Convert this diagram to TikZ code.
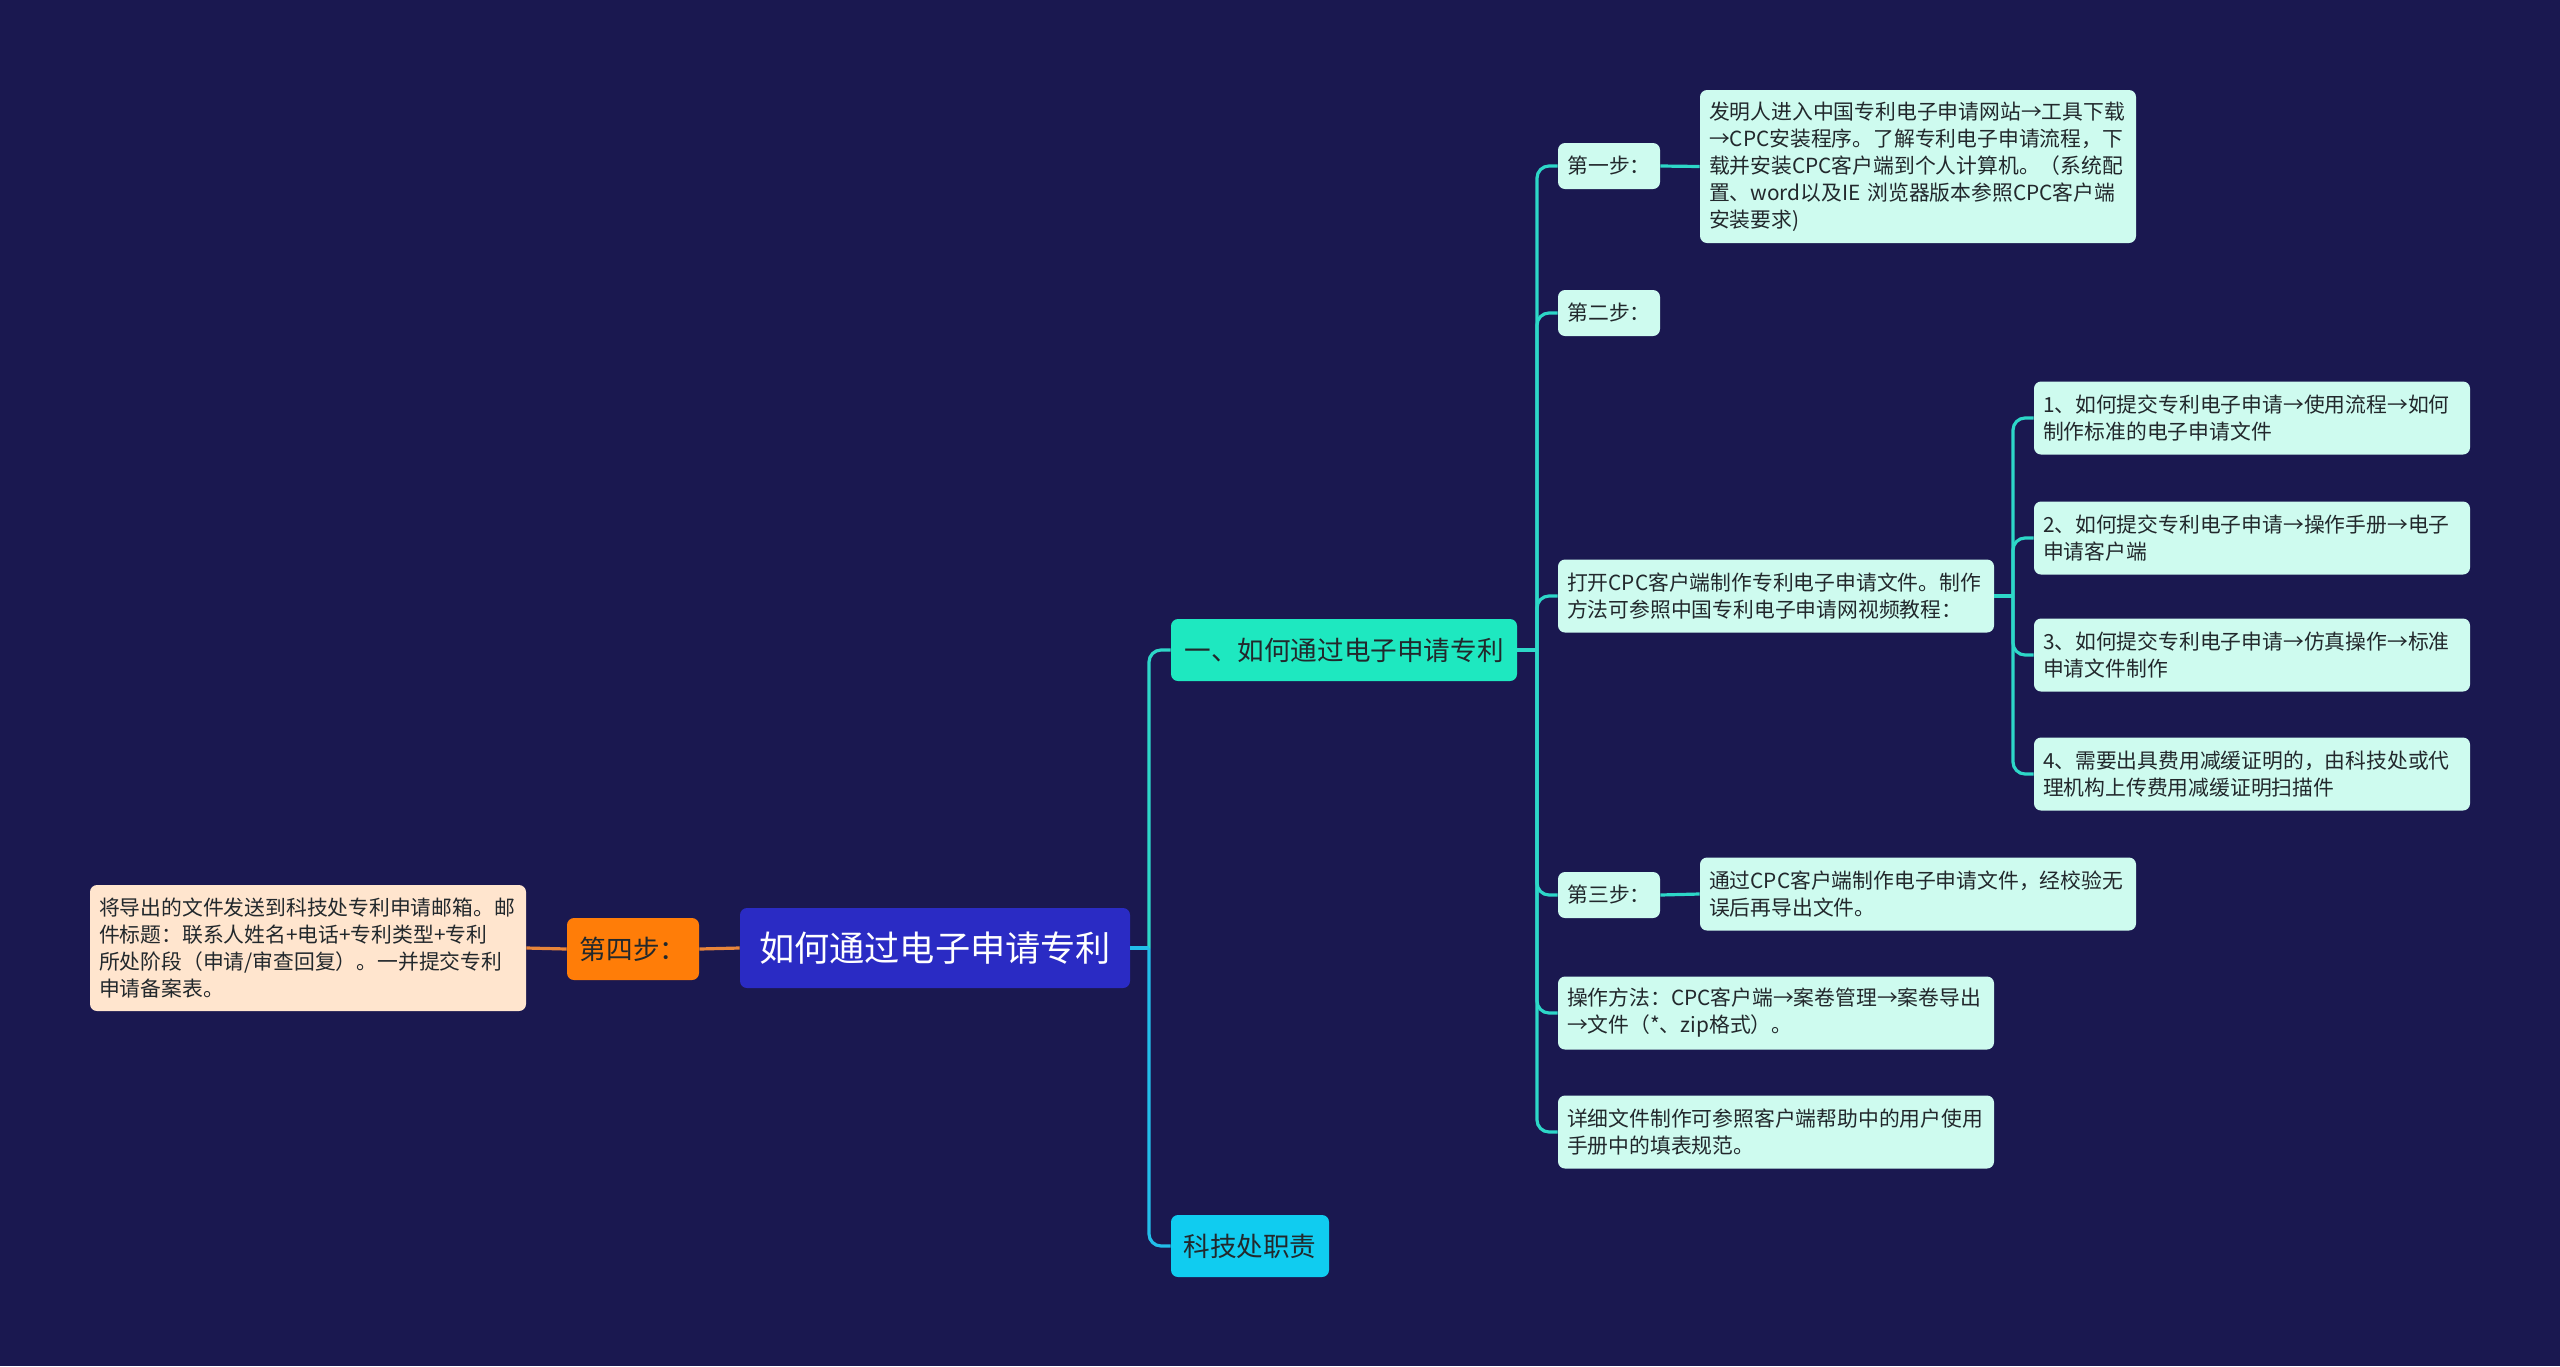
\documentclass[tikz,border=0pt]{standalone}
\usepackage{fontspec}
\newfontfamily\cjk{Noto Sans CJK SC}
\definecolor{bgc}{RGB}{26,24,80}
\definecolor{rootfill}{RGB}{42,43,196}
\definecolor{tealfill}{RGB}{30,232,192}
\definecolor{cyanfill}{RGB}{16,204,240}
\definecolor{mintfill}{RGB}{206,251,239}
\definecolor{orangefill}{RGB}{255,125,8}
\definecolor{peachfill}{RGB}{255,229,206}
\definecolor{darktext}{RGB}{34,40,44}
\definecolor{tealline}{RGB}{45,215,200}
\definecolor{cyanline}{RGB}{34,190,234}
\definecolor{orangeline}{RGB}{232,133,58}
\begin{document}
\begin{tikzpicture}[x=0.5pt,y=-0.5pt,
  base/.style={rounded corners=3.5pt, inner xsep=4.5pt, inner ysep=2pt, text=darktext},
  ltwo/.style={base, fill=mintfill, font=\cjk\fontsize{10.4}{13.5}\selectfont, align=left},
  widebox/.style={ltwo, text width=209pt, minimum height=36.5pt},
  shortbox/.style={ltwo, align=center, minimum width=51pt, minimum height=23pt},
  lone/.style={base, font=\cjk\fontsize{13.3}{16}\selectfont, minimum height=31pt},
  rootbox/.style={base, fill=rootfill, text=white, font=\cjk\fontsize{17.6}{20}\selectfont, minimum width=195pt, minimum height=40pt},
  conn/.style={line width=1.6pt, rounded corners=6pt},
]
\fill[bgc] (0,0) rectangle (2560,1366);
\useasboundingbox (0,0) rectangle (2560,1366);

% nodes
\node[rootbox] (root) at (935,948) {如何通过电子申请专利};
\node[lone, fill=orangefill, minimum width=66pt] (s4) at (633,949) {第四步：};
\node[ltwo, fill=peachfill, text width=209pt, minimum height=63pt] (s4t) at (308,948)
  {将导出的文件发送到科技处专利申请邮箱。邮\\件标题：联系人姓名+电话+专利类型+专利\\所处阶段（申请/审查回复）。一并提交专利\\申请备案表。};
\node[lone, fill=tealfill, minimum width=173pt] (b1) at (1344,650) {一、如何通过电子申请专利};
\node[lone, fill=cyanfill, minimum width=79pt] (b2) at (1250,1246) {科技处职责};

\node[shortbox] (st1) at (1609,166) {第一步：};
\node[widebox, minimum height=76.5pt] (st1t) at (1918,166.5)
  {发明人进入中国专利电子申请网站→工具下载\\→CPC安装程序。了解专利电子申请流程，下\\载并安装CPC客户端到个人计算机。（系统配\\置、word以及IE 浏览器版本参照CPC客户端\\安装要求)};
\node[shortbox] (st2) at (1609,313) {第二步：};
\node[widebox] (open) at (1776,596) {打开CPC客户端制作专利电子申请文件。制作\\方法可参照中国专利电子申请网视频教程：};
\node[widebox] (sub1) at (2252,418) {1、如何提交专利电子申请→使用流程→如何\\制作标准的电子申请文件};
\node[widebox] (sub2) at (2252,538) {2、如何提交专利电子申请→操作手册→电子\\申请客户端};
\node[widebox] (sub3) at (2252,655) {3、如何提交专利电子申请→仿真操作→标准\\申请文件制作};
\node[widebox] (sub4) at (2252,774) {4、需要出具费用减缓证明的，由科技处或代\\理机构上传费用减缓证明扫描件};
\node[shortbox] (st3) at (1609,895) {第三步：};
\node[widebox] (st3t) at (1918,894) {通过CPC客户端制作电子申请文件，经校验无\\误后再导出文件。};
\node[widebox] (op) at (1776,1013) {操作方法：CPC客户端→案卷管理→案卷导出\\→文件（*、zip格式）。};
\node[widebox] (det) at (1776,1132) {详细文件制作可参照客户端帮助中的用户使用\\手册中的填表规范。};

% junctions
\coordinate (rj) at (1149,948);
\coordinate (j1) at (1537,650);
\coordinate (j2) at (2013,596);

% connectors
\draw[conn, cyanline] (rj) |- (b2.west);
\draw[conn, tealline] (rj) |- (b1.west);
\draw[conn, cyanline] (root.east) -- (rj);
\draw[conn, orangeline] (root.west) -- (s4.east);
\draw[conn, orangeline] (s4.west) -- (s4t.east);

\draw[conn, tealline] (b1.east) -- (j1);
\foreach \n in {st1,st2,open,st3,op,det} \draw[conn, tealline] (j1) |- (\n.west);
\draw[conn, tealline] (st1.east) -- (st1t.west);
\draw[conn, tealline] (st3.east) -- (st3t.west);
\draw[conn, tealline] (open.east) -- (j2);
\foreach \n in {sub1,sub2,sub3,sub4} \draw[conn, tealline] (j2) |- (\n.west);
\end{tikzpicture}
\end{document}
